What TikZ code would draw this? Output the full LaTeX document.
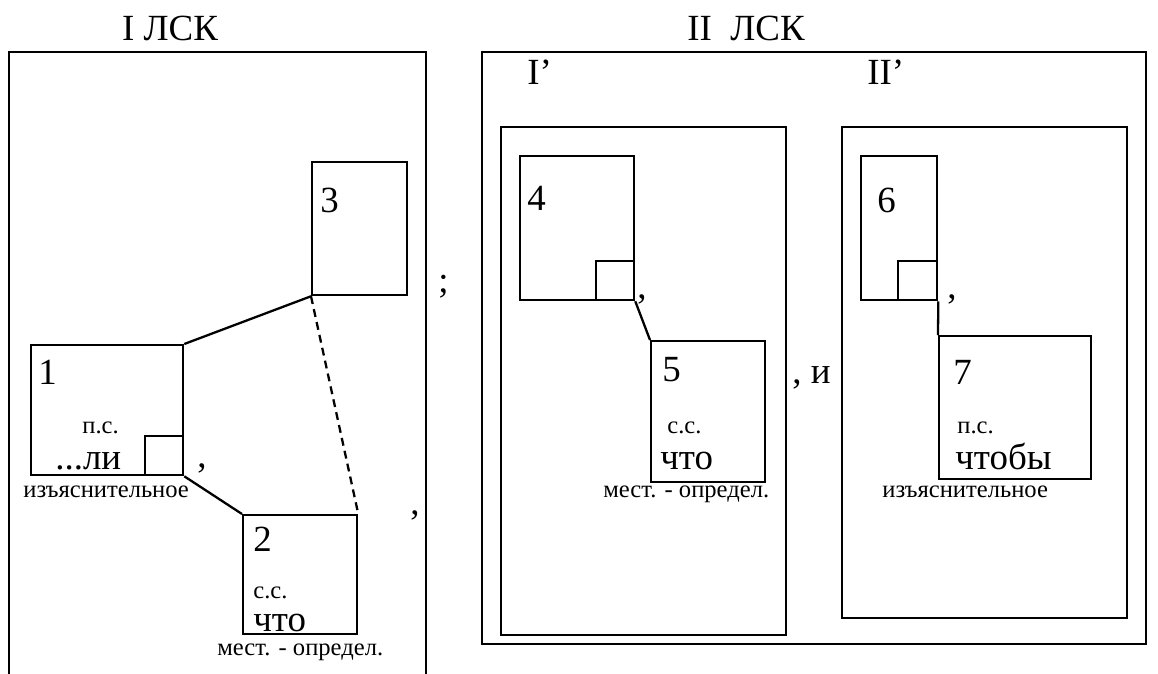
\documentclass[tikz,border=0pt]{standalone}
\usepackage{fontspec}
\setmainfont{Liberation Serif}
\usepackage{tikz}

\begin{document}
\begin{tikzpicture}[x=0.02cm,y=-0.02cm,
  box/.style={draw,line width=1.3pt,inner sep=0pt,anchor=north west},
  link/.style={line width=1.3pt},
  dlink/.style={line width=1.3pt,dash pattern=on 4.5pt off 3pt},
  bigtxt/.style={font=\fontsize{21}{24}\selectfont,inner sep=0pt,anchor=base west},
  smalltxt/.style={font=\fontsize{14}{16}\selectfont,inner sep=0pt,anchor=base west}
]
\useasboundingbox (0,0) rectangle (1158,673);
\clip (0,0) rectangle (1158,673);

% I LSK
\node[bigtxt,anchor=base] (t1) at (170,40) {I ЛСК};
\node[box,minimum width=8.34cm,minimum height=12.8cm] (lsk1) at (8,51) {};
\node[box,minimum width=1.9cm,minimum height=2.66cm] (b3) at (311,161) {};
\node[box,minimum width=3.04cm,minimum height=2.6cm] (b1) at (30,344) {};
\node[box,anchor=south east,minimum width=0.76cm,minimum height=0.78cm] (q1) at (b1.south east) {};
\node[box,minimum width=2.28cm,minimum height=2.38cm] (b2) at (242,514) {};

\draw[link] (b1.north east) -- (b3.south west);
\draw[link] (b1.south east) -- (b2.north west);
\draw[dlink] (b3.south west) -- (b2.north east);

\node[bigtxt] (n3) at (320,212) {3};
\node[bigtxt] (n1) at (38,384) {1};
\node[smalltxt] (ps1) at (82,433) {п.с.};
\node[bigtxt] (li) at (55,469) {...ли};
\node[smalltxt] (iz1) at (23,497) {изъяснительное};
\node[bigtxt] (c1) at (197,467) {,};
\node[bigtxt] (n2) at (253,551) {2};
\node[smalltxt] (ss2) at (253,598) {с.с.};
\node[bigtxt] (chto2) at (253,631) {что};
\node[smalltxt] (mo2) at (217,655) {мест. - определ.};
\node[bigtxt] (c2) at (410,514) {,};
\node[bigtxt] (sc) at (438,292) {;};

% II LSK
\node[bigtxt,anchor=base] (t2) at (746,40) {II\ \ ЛСК};
\node[box,minimum width=13.28cm,minimum height=11.84cm] (lsk2) at (481,51) {};
\node[bigtxt] (tI) at (527,84) {I’};
\node[bigtxt] (tII) at (867,84) {II’};
\node[box,minimum width=5.7cm,minimum height=10.16cm] (pI) at (500,126) {};
\node[box,minimum width=5.7cm,minimum height=9.82cm] (pII) at (841,126) {};

% I'
\node[box,minimum width=2.28cm,minimum height=2.88cm] (b4) at (519,155) {};
\node[box,anchor=south east,minimum width=0.76cm,minimum height=0.78cm] (q4) at (b4.south east) {};
\node[box,minimum width=2.28cm,minimum height=2.82cm] (b5) at (650,340) {};
\draw[link] (b4.south east) -- (b5.north west);
\node[bigtxt] (n4) at (527,210) {4};
\node[bigtxt] (c4) at (637,298) {,};
\node[bigtxt] (n5) at (662,381) {5};
\node[smalltxt] (ss5) at (667,433) {с.с.};
\node[bigtxt] (chto5) at (660,469) {что};
\node[smalltxt] (mo5) at (603,497) {мест. - определ.};
\node[bigtxt] (ci) at (792,383) {, и};

% II'
\node[box,minimum width=1.52cm,minimum height=2.88cm] (b6) at (860,155) {};
\node[box,anchor=south east,minimum width=0.78cm,minimum height=0.78cm] (q6) at (b6.south east) {};
\node[box,minimum width=3.04cm,minimum height=2.86cm] (b7) at (938,335) {};
\draw[link] (b6.south east) -- (b7.north west);
\node[bigtxt] (n6) at (877,212) {6};
\node[bigtxt] (c6) at (947,298) {,};
\node[bigtxt] (n7) at (953,384) {7};
\node[smalltxt] (ps7) at (957,433) {п.с.};
\node[bigtxt] (chtoby) at (955,469) {чтобы};
\node[smalltxt] (iz7) at (882,497) {изъяснительное};
\end{tikzpicture}
\end{document}
